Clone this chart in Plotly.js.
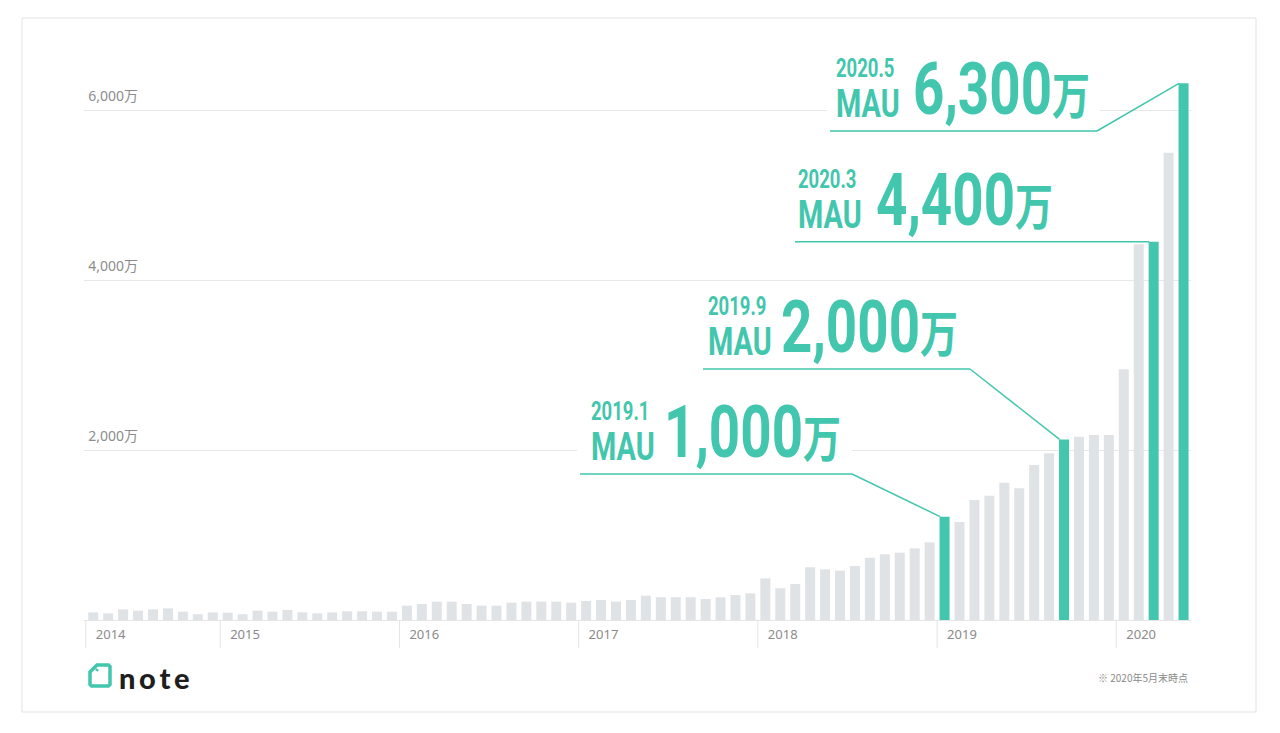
<!DOCTYPE html>
<html><head><meta charset="utf-8">
<script src="https://cdn.plot.ly/plotly-3.0.1.min.js"></script>
<style>html,body{margin:0;padding:0;background:#fff;}#chart{width:1280px;height:733px;}</style>
</head><body><div id="chart"></div>
<script>
// ---- data ----
const months = [
 '2014-04','2014-05','2014-06','2014-07','2014-08','2014-09','2014-10','2014-11','2014-12',
 '2015-01','2015-02','2015-03','2015-04','2015-05','2015-06','2015-07','2015-08','2015-09','2015-10','2015-11','2015-12',
 '2016-01','2016-02','2016-03','2016-04','2016-05','2016-06','2016-07','2016-08','2016-09','2016-10','2016-11','2016-12',
 '2017-01','2017-02','2017-03','2017-04','2017-05','2017-06','2017-07','2017-08','2017-09','2017-10','2017-11','2017-12',
 '2018-01','2018-02','2018-03','2018-04','2018-05','2018-06','2018-07','2018-08','2018-09','2018-10','2018-11','2018-12',
 '2019-01','2019-02','2019-03','2019-04','2019-05','2019-06','2019-07','2019-08','2019-09','2019-10','2019-11','2019-12',
 '2020-01','2020-02','2020-03','2020-04','2020-05'
];
// MAU in 万 (10,000 users)
const mau = [
 90,78,125,110,125,137,98,67,90,
 86,67,110,98,118,90,78,90,102,102,98,98,
 169,188,216,216,188,169,169,204,216,216,216,204,
 224,235,216,235,286,267,267,267,247,267,294,314,
 490,373,424,620,596,580,635,733,773,792,843,914,
 1216,1153,1412,1463,1616,1549,1824,1961,2125,2157,2176,2176,
 2949,4420,4451,5498,6314
];
const yearTickMonths = ['2014-04','2015-01','2016-01','2017-01','2018-01','2019-01','2020-01'];
const yearTickText = ['2014','2015','2016','2017','2018','2019','2020'];
const yTickVals = [2000,4000,6000];
const yTickText = ['2,000万','4,000万','6,000万'];
const highlightMonths = ['2019-01','2019-09','2020-03','2020-05'];
const calloutDates = ['2019.1','2019.9','2020.3','2020.5'];
const calloutNumbers = ['1,000','2,000','4,400','6,300'];

// ---- styling / layout geometry ----
const TEAL = '#42c6ad', GRAY_BAR = '#dfe3e5';
const W = 1280, H = 733, L = 84, R = 89, T = 50, B = 113;
const plotW = W - L - R, plotH = H - T - B;
const xStart = -0.62, xEnd = months.length - 0.5;
const unit = plotW / (xEnd - xStart);
const yMax = 570 / 0.085;
const xp = px => (px - L) / plotW;
const yp = py => (H - B - py) / plotH;
const xd = px => (px - L) / unit + xStart;
const yd = py => (H - B - py) / plotH * yMax;

const COND = 'Roboto, "Noto Sans CJK JP", sans-serif';
const SANS = '"Noto Sans", "Noto Sans CJK JP", sans-serif';

const colors = months.map(m => highlightMonths.includes(m) ? TEAL : GRAY_BAR);

const calloutGeom = [
 {lineLeft:580, lineY:474, elbowX:852,  dateX:589, numX:662, coverRight:852},
 {lineLeft:703, lineY:369, elbowX:970,  dateX:706, numX:779, coverRight:970},
 {lineLeft:795, lineY:242, elbowX:null, dateX:796, numX:874, coverRight:1060},
 {lineLeft:830, lineY:131, elbowX:1097, dateX:834, numX:911, coverRight:1100}
];

const shapes = [];
const annotations = [];
const squeeze = {};   // annotation index -> horizontal condense factor

// card
shapes.push({type:'rect', xref:'paper', yref:'paper', x0:xp(22), x1:xp(1256), y0:yp(712), y1:yp(18),
  line:{color:'#e3e3e3', width:1}, fillcolor:'#ffffff', layer:'below'});

// year dividers below the axis
yearTickMonths.forEach(m => {
  const i = months.indexOf(m);
  shapes.push({type:'line', xref:'x', yref:'paper', x0:i-0.5, x1:i-0.5, y0:0, y1:yp(648),
    line:{color:'#e4e4e4', width:1}});
});

highlightMonths.forEach((m, k) => {
  const g = calloutGeom[k];
  const i = months.indexOf(m);
  const v = mau[i];
  shapes.push({type:'rect', xref:'x', yref:'y', x0:xd(g.lineLeft-3), x1:xd(g.coverRight),
    y0:yd(g.lineY-2), y1:yd(g.lineY-76), fillcolor:'#ffffff', line:{width:0}, layer:'between'});
  if (g.elbowX !== null) {
    shapes.push({type:'line', xref:'x', yref:'y', x0:xd(g.lineLeft), x1:xd(g.elbowX), y0:yd(g.lineY), y1:yd(g.lineY),
      line:{color:TEAL, width:1.5}});
    shapes.push({type:'line', xref:'x', yref:'y', x0:xd(g.elbowX), x1:i-0.3, y0:yd(g.lineY), y1:v,
      line:{color:TEAL, width:1.5}});
  } else {
    shapes.push({type:'line', xref:'x', yref:'y', x0:xd(g.lineLeft), x1:i-0.3, y0:v, y1:v,
      line:{color:TEAL, width:1.5}});
  }
  // date over "MAU" as one two-line text block
  squeeze[annotations.length] = 0.74;
  annotations.push({xref:'paper', yref:'paper', x:xp(g.dateX), y:yp(g.lineY-40.5), xanchor:'left', yanchor:'middle',
    align:'left',
    text:'<span style="font-size:25px">' + calloutDates[k] + '</span><br><span style="font-size:39px">MAU</span>',
    showarrow:false, font:{family:COND, size:31, color:TEAL, weight:700}});
  squeeze[annotations.length] = 0.76;
  annotations.push({xref:'paper', yref:'paper', x:xp(g.numX), y:yp(g.lineY-42), xanchor:'left', yanchor:'middle',
    text:calloutNumbers[k] + '<span style="font-size:50px">万</span>', showarrow:false,
    font:{family:COND, size:72, color:TEAL, weight:700}});
});

// logo
const P = (x, y) => xp(x).toFixed(5) + ',' + yp(y).toFixed(5);
shapes.push({type:'path', xref:'paper', yref:'paper',
  path:'M' + P(97,665) + ' L' + P(108.5,665) + ' L' + P(110,666.5) + ' L' + P(110,684.5) + ' L' + P(108.5,686) +
       ' L' + P(91.5,686) + ' L' + P(90,684.5) + ' L' + P(90,672) + ' Z',
  line:{color:TEAL, width:3.5}, fillcolor:'rgba(0,0,0,0)'});
shapes.push({type:'line', xref:'paper', yref:'paper', x0:xp(96.5), x1:xp(97.5), y0:yp(671), y1:yp(669),
  line:{color:TEAL, width:3}});
annotations.push({xref:'paper', yref:'paper', x:xp(117), y:yp(677), xanchor:'left', yanchor:'middle',
  text:'n\u2009o\u2009t\u2009e', showarrow:false, font:{family:'Lato, "Noto Sans", sans-serif', size:29, color:'#1e1e1e', weight:900}});
annotations.push({xref:'paper', yref:'paper', x:xp(1190), y:yp(677), xanchor:'right', yanchor:'middle',
  text:'※ 2020年5月末時点', showarrow:false, font:{family:'"Noto Sans CJK JP", sans-serif', size:10, color:'#8a8a8a'}});

const trace = {
  type:'bar', x:months, y:mau, marker:{color:colors, line:{width:0}}, hoverinfo:'skip'
};

const layout = {
  width:W, height:H, margin:{l:L, r:R, t:T, b:B, pad:0},
  paper_bgcolor:'#ffffff', plot_bgcolor:'rgba(0,0,0,0)',
  showlegend:false, bargap:0.33,
  xaxis:{type:'category', range:[xStart, xEnd], tickvals:yearTickMonths, ticktext:yearTickText,
    ticks:'', ticklabelposition:'outside right', ticklabelshift:2, ticklabelstandoff:2,
    showgrid:false, zeroline:false, showline:true, linecolor:'#e6e6e6', linewidth:1,
    tickfont:{family:SANS, size:13, color:'#8a8a8a'}, fixedrange:true},
  yaxis:{range:[0, yMax], tickvals:yTickVals, ticktext:yTickText, ticks:'',
    ticklabelposition:'outside', ticklabelstandoff:-55, ticklabelshift:-14,
    showgrid:true, gridcolor:'#e8e8e8', gridwidth:1, zeroline:false, showline:false,
    tickfont:{family:SANS, size:14, color:'#8c8c8c'}, fixedrange:true},
  shapes:shapes, annotations:annotations
};

Plotly.newPlot('chart', [trace], layout, {displayModeBar:false, staticPlot:true}).then(gd => {
  gd.querySelectorAll('g.annotation').forEach(a => {
    const s = squeeze[+a.getAttribute('data-index')];
    if (!s) return;
    const t = a.querySelector('text');
    t.style.transformBox = 'fill-box';
    t.style.transformOrigin = '0% 50%';
    t.style.transform = 'scaleX(' + s + ')';
  });
});
</script>
</body></html>
